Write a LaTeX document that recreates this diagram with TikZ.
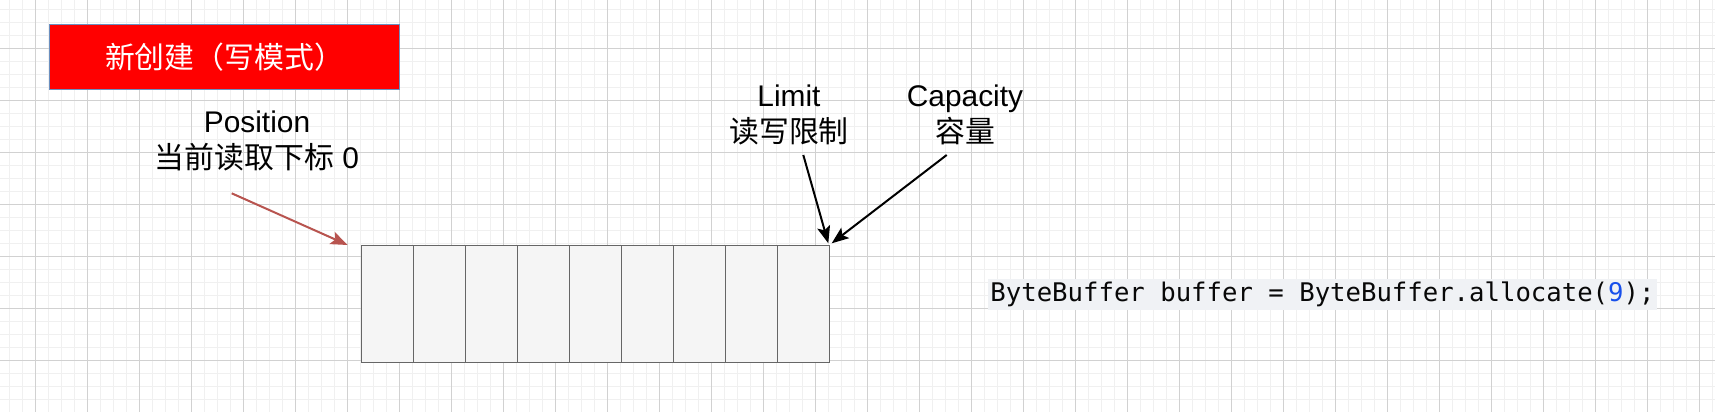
\documentclass[tikz,border=0pt]{standalone}
\usepackage{fontspec}
\setmainfont{Liberation Sans}
\newfontfamily\cjk{Noto Sans CJK SC}
\newfontfamily\codefont{DejaVu Sans Mono}
\usetikzlibrary{arrows.meta}

\begin{document}
\begin{tikzpicture}[x=0.02cm,y=-0.02cm,
    >={Stealth[length=0.34cm,width=0.26cm,inset=0.07cm]},
    gridminor/.style={draw=clrminor,line width=0.03cm},
    gridmajor/.style={draw=clrmajor,line width=0.022cm},
    cell/.style={draw=clrcellline,fill=clrcell,line width=0.026cm,minimum width=1.04cm,minimum height=2.34cm,inner sep=0pt},
    lab/.style={align=center,font=\labfont},
    titlebox/.style={draw=clrborder,fill=red,text=white,line width=0.02cm,minimum width=7.02cm,minimum height=1.3cm,font=\labfont},
    code/.style={fill=clrcodebg,text=clrcode,inner xsep=0.05cm,inner ysep=0pt,minimum height=0.614cm,font=\codefont\fontsize{14.6}{17}\selectfont},
    pointer/.style={->,line width=0.04cm}]

    \def\labfont{\fontsize{17}{20.5}\selectfont}

\definecolor{clrminor}{rgb}{0.94,0.94,0.94}
\definecolor{clrmajor}{rgb}{0.82,0.82,0.82}
\definecolor{clrcell}{rgb}{0.96,0.96,0.96}
\definecolor{clrcellline}{rgb}{0.40,0.40,0.40}
\definecolor{clrborder}{rgb}{0.42,0.56,0.75}
\definecolor{clrpos}{rgb}{0.72,0.33,0.31}
\definecolor{clrcodebg}{rgb}{0.94,0.95,0.96}
\definecolor{clrcode}{rgb}{0.03,0.03,0.03}
\definecolor{clrnum}{rgb}{0.09,0.31,0.92}

    \useasboundingbox[fill=white] (0,0) rectangle (1715,412);

    \begin{scope}
      \clip (0,0) rectangle (1715,412);
      \foreach \i in {-3,...,130}{
        \draw[gridminor] ({35.3+13*\i},0) -- ({35.3+13*\i},412);
      }
      \foreach \j in {-4,...,28}{
        \draw[gridminor] (0,{48.3+13*\j}) -- (1715,{48.3+13*\j});
      }
      \foreach \i in {-1,...,33}{
        \draw[gridmajor] ({35.3+52*\i},0) -- ({35.3+52*\i},412);
      }
      \foreach \j in {-1,...,7}{
        \draw[gridmajor] (0,{48.3+52*\j}) -- (1715,{48.3+52*\j});
      }
    \end{scope}

    \node[titlebox] (title) at (224.5,56.7) {\cjk 新创建（写模式）};

    \foreach \x in {1,2,...,9}{
      \node[cell] (c\x) at ({361.3+52*(\x-0.5)},303.8) {};
    }

    \node[lab] (pos) at (257,141) {Position\\{\cjk 当前读取下标} 0};
    \node[lab] (limit) at (789,115) {Limit\\{\cjk 读写限制}};
    \node[lab] (cap) at (965,115) {Capacity\\{\cjk 容量}};

    \node[code] (code) at (1322.5,294.7) {ByteBuffer buffer = ByteBuffer.allocate(\textcolor{clrnum}{9});};

    \coordinate (ptail) at (231.7,193.3);
    \coordinate (ptip) at (347.7,245);
    \coordinate (ltail) at (803.3,155);
    \coordinate (ltip) at (828.3,243.3);
    \coordinate (ctail) at (946.7,155);
    \coordinate (ctip) at (831.7,243.3);

    \draw[pointer,clrpos] (ptail) -- (ptip);
    \draw[pointer] (ltail) -- (ltip);
    \draw[pointer] (ctail) -- (ctip);

  \end{tikzpicture}
\end{document}
